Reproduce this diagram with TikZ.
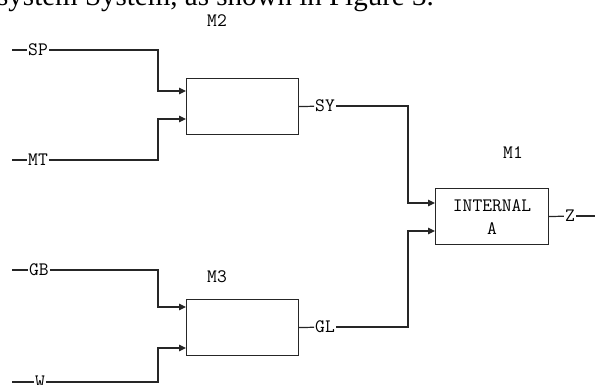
\documentclass[tikz,border=0pt]{standalone}
\usepackage{fontspec}
\setmainfont{Liberation Serif}
\usetikzlibrary{arrows.meta}
\begin{document}
\begin{tikzpicture}[x=1pt,y=-1pt,
  wire/.style={line width=1.2pt, black!85},
  arr/.style={wire,-{Triangle[length=7pt,width=6.5pt]}},
  blk/.style={draw=black!85, line width=1.2pt, minimum width=112pt, minimum height=56pt, inner sep=0pt, anchor=north west},
  lbl/.style={font=\ttfamily\fontsize{19}{23}\selectfont, inner sep=1pt},
  ttl/.style={font=\ttfamily\fontsize{19}{23}\selectfont, inner sep=0pt}]
\useasboundingbox (0,0) rectangle (595,385);
\clip (0,0) rectangle (595,385);
% cut-off caption line at the top
\node[anchor=base west, font=\fontsize{29}{32}\selectfont, inner sep=0pt] (cap) at (-3,5.5) {system System, as shown in Figure 3.};
% blocks
\node[blk] (m2) at (186,78) {};
\node[blk] (m3) at (186,299) {};
\node[blk, minimum width=113pt, align=center, font=\ttfamily\fontsize{19}{23}\selectfont] (m1) at (435,188) {INTERNAL\\A};
\node[ttl] (t2) at (217,21) {M2};
\node[ttl] (t3) at (217,277) {M3};
\node[ttl] (t1) at (513,153) {M1};
% input points on blocks
\coordinate (m2a) at (186,91);
\coordinate (m2b) at (186,119);
\coordinate (m3a) at (186,307);
\coordinate (m3b) at (186,348);
\coordinate (m1a) at (435,203);
\coordinate (m1b) at (435,231);
% external inputs
\coordinate (sp0) at (12,50);  \node[lbl] (sp) at (38,50) {SP};
\coordinate (mt0) at (12,160); \node[lbl] (mt) at (38,160) {MT};
\coordinate (gb0) at (12,270); \node[lbl] (gb) at (39,270) {GB};
\coordinate (w0) at (12,382);  \node[lbl] (w) at (40,382) {W};
\draw[wire] (sp0) -- (sp);
\draw[wire] (mt0) -- (mt);
\draw[wire] (gb0) -- (gb);
\draw[wire] (w0) -- (w);
\draw[arr] (sp.east) -| ([xshift=-28pt]m2a) -- (m2a);
\draw[arr] (mt.east) -| ([xshift=-28pt]m2b) -- (m2b);
\draw[arr] (gb.east) -| ([xshift=-28pt]m3a) -- (m3a);
\draw[arr] (w.east) -| ([xshift=-28pt]m3b) -- (m3b);
% outputs
\node[lbl] (sy) at (325,106) {SY};
\node[lbl] (gl) at (325,327) {GL};
\node[lbl] (z) at (570,216) {Z};
\coordinate (zend) at (595,216);
\draw[wire] (m2.east) -- (sy);
\draw[wire] (m3.east) -- (gl);
\draw[arr] (sy.east) -| ([xshift=-27pt]m1a) -- (m1a);
\draw[arr] (gl.east) -| ([xshift=-27pt]m1b) -- (m1b);
\draw[wire] (m1.east) -- (z);
\draw[wire] (z) -- (zend);
\end{tikzpicture}
\end{document}
